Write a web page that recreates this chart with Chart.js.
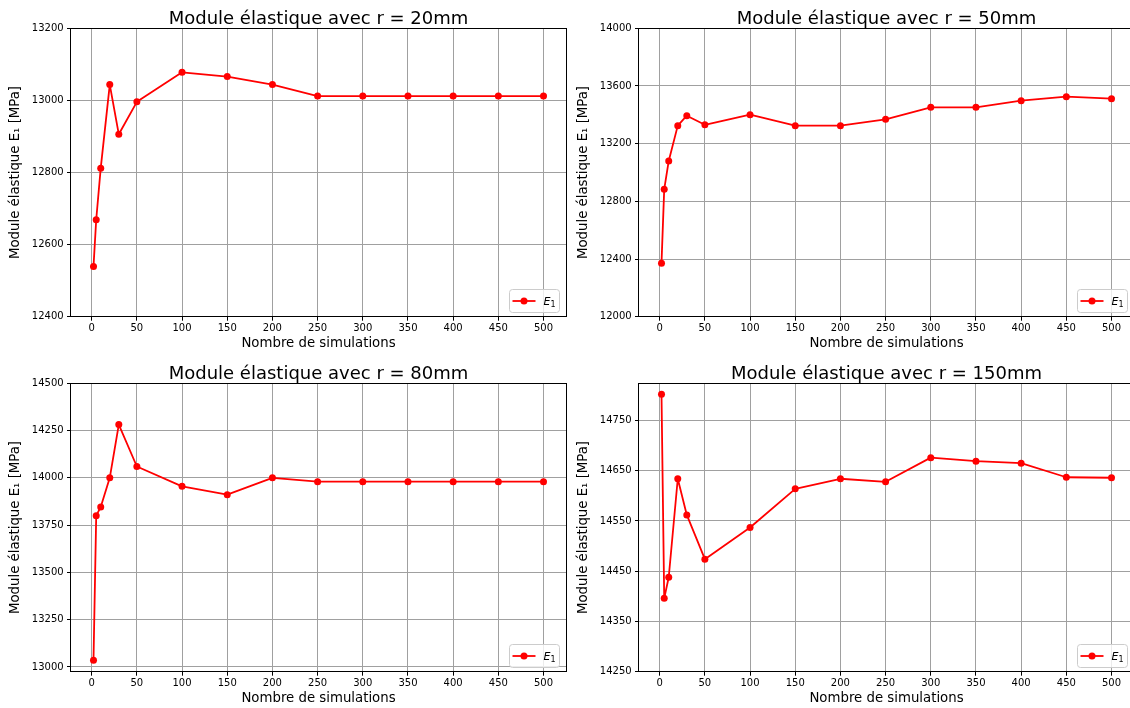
<!DOCTYPE html>
<html>
<head>
  <meta charset="UTF-8">
  <title>Module élastique</title>
  <script src="https://cdn.jsdelivr.net/npm/chart.js"></script>
  <style>
    body {
      margin: 0;
      width: 1130px;
      height: 708px;
      overflow: hidden;
      position: relative;
      background: #fff;
    }
    canvas {
      position: absolute;
    }
  </style>
</head>
<body>
  <canvas id="c20" width="575" height="354" style="left:0;top:0"></canvas>
  <canvas id="c50" width="575" height="354" style="left:568px;top:0"></canvas>
  <canvas id="c80" width="575" height="354" style="left:0;top:355px"></canvas>
  <canvas id="c150" width="575" height="354" style="left:568px;top:355px"></canvas>

  <script>
    // number of simulations (x values, same for all four plots)
    const nSims = [2, 5, 10, 20, 30, 50, 100, 150, 200, 250, 300, 350, 400, 450, 500];

    // E1 values [MPa]
    const e1R20 = [12539, 12669, 12812, 13044, 12906, 12996, 13078, 13066, 13044, 13012, 13012, 13012, 13012, 13012, 13012];
    const e1R50 = [12370, 12883, 13080, 13325, 13394, 13331, 13401, 13325, 13325, 13369, 13452, 13452, 13498, 13526, 13512];
    const e1R80 = [13035, 13800, 13846, 14000, 14282, 14060, 13955, 13911, 14000, 13980, 13980, 13980, 13980, 13980, 13980];
    const e1R150 = [14802, 14396, 14438, 14634, 14562, 14474, 14537, 14614, 14634, 14628, 14676, 14669, 14665, 14637, 14636];

    // tick labels
    const xTicks = [0, 50, 100, 150, 200, 250, 300, 350, 400, 450, 500];
    const yTicksR20 = [12400, 12600, 12800, 13000, 13200];
    const yTicksR50 = [12000, 12400, 12800, 13200, 13600, 14000];
    const yTicksR80 = [13000, 13250, 13500, 13750, 14000, 14250, 14500];
    const yTicksR150 = [14250, 14350, 14450, 14550, 14650, 14750];

    const FONT = 'DejaVu Sans';

    // axes frame + matplotlib-like legend box in the lower right corner
    const mplPlugin = {
      id: 'mplFrame',
      afterDraw(chart) {
        const { ctx, chartArea: a } = chart;
        const ds = chart.data.datasets[0];
        ctx.save();
        ctx.strokeStyle = '#000';
        ctx.lineWidth = 1;
        ctx.strokeRect(Math.round(a.left) - 0.5, Math.round(a.top) + 0.5,
          Math.round(a.right - a.left) + 1, Math.round(a.bottom - a.top));

        const w = 50, h = 23;
        const x = Math.round(a.right - w - 7) + 0.5, y = Math.round(a.bottom - h - 5) + 0.5;
        ctx.beginPath();
        ctx.roundRect(x, y, w, h, 3);
        ctx.fillStyle = 'rgba(255,255,255,0.8)';
        ctx.fill();
        ctx.strokeStyle = '#cccccc';
        ctx.stroke();
        const cy = y + h / 2;
        ctx.strokeStyle = ds.borderColor;
        ctx.lineWidth = ds.borderWidth;
        ctx.beginPath();
        ctx.moveTo(x + 3, cy);
        ctx.lineTo(x + 26, cy);
        ctx.stroke();
        ctx.fillStyle = ds.backgroundColor;
        ctx.beginPath();
        ctx.arc(x + 14.5, cy, ds.pointRadius, 0, Math.PI * 2);
        ctx.fill();
        ctx.fillStyle = '#000';
        ctx.textBaseline = 'alphabetic';
        ctx.font = 'italic 11px "' + FONT + '"';
        ctx.fillText('E', x + 34, cy + 4);
        ctx.font = '8px "' + FONT + '"';
        ctx.fillText('1', x + 41, cy + 6);
        ctx.restore();
      }
    };

    function makeChart(id, title, values, yMin, yMax, yTicks) {
      const grid = { color: '#a0a0a0', lineWidth: 1, drawTicks: true, tickLength: 4, tickColor: '#000' };
      new Chart(document.getElementById(id), {
        type: 'line',
        data: {
          datasets: [{
            label: 'E₁',
            data: nSims.map((n, i) => ({ x: n, y: values[i] })),
            borderColor: '#ff0000',
            backgroundColor: '#ff0000',
            borderWidth: 1.8,
            borderJoinStyle: 'round',
            borderCapStyle: 'round',
            pointRadius: 3.5,
            pointBorderWidth: 0,
            pointHoverRadius: 3.5,
            tension: 0,
            fill: false
          }]
        },
        options: {
          responsive: false,
          animation: false,
          events: [],
          layout: { padding: { top: 0, right: 9, bottom: 0, left: 0 } },
          plugins: {
            legend: { display: false },
            tooltip: { enabled: false },
            title: {
              display: true,
              fullSize: false,
              text: title,
              color: '#000',
              font: { family: FONT, size: 18, weight: 'normal', lineHeight: 1 },
              padding: { top: 10, bottom: 0.3 }
            }
          },
          scales: {
            x: {
              type: 'linear',
              min: -22.9,
              max: 524.9,
              afterBuildTicks: s => { s.ticks = xTicks.map(v => ({ value: v })); },
              afterFit: s => { s.height = 37.3; },
              ticks: { color: '#000', font: { family: FONT, size: 10 }, padding: 2, maxRotation: 0, autoSkip: false, callback: v => String(v) },
              grid: grid,
              border: { display: false },
              title: {
                display: true,
                text: 'Nombre de simulations',
                color: '#000',
                font: { family: FONT, size: 13.3, lineHeight: 1.2 },
                padding: { top: 0, bottom: 2.6 }
              }
            },
            y: {
              min: yMin,
              max: yMax,
              afterBuildTicks: s => { s.ticks = yTicks.map(v => ({ value: v })); },
              afterFit: s => { s.width = 71; },
              ticks: { color: '#000', font: { family: FONT, size: 10 }, padding: 3.4, callback: v => String(v) },
              grid: grid,
              border: { display: false },
              title: {
                display: true,
                text: 'Module élastique E₁ [MPa]',
                color: '#000',
                font: { family: FONT, size: 13.3, lineHeight: 1.2 },
                padding: { top: 7.7, bottom: 0 }
              }
            }
          }
        },
        plugins: [mplPlugin]
      });
    }

    makeChart('c20', 'Module élastique avec r = 20mm', e1R20, 12400, 13200, yTicksR20);
    makeChart('c50', 'Module élastique avec r = 50mm', e1R50, 12000, 14000, yTicksR50);
    makeChart('c80', 'Module élastique avec r = 80mm', e1R80, 12975, 14500, yTicksR80);
    makeChart('c150', 'Module élastique avec r = 150mm', e1R150, 14250, 14824, yTicksR150);
  </script>
</body>
</html>
